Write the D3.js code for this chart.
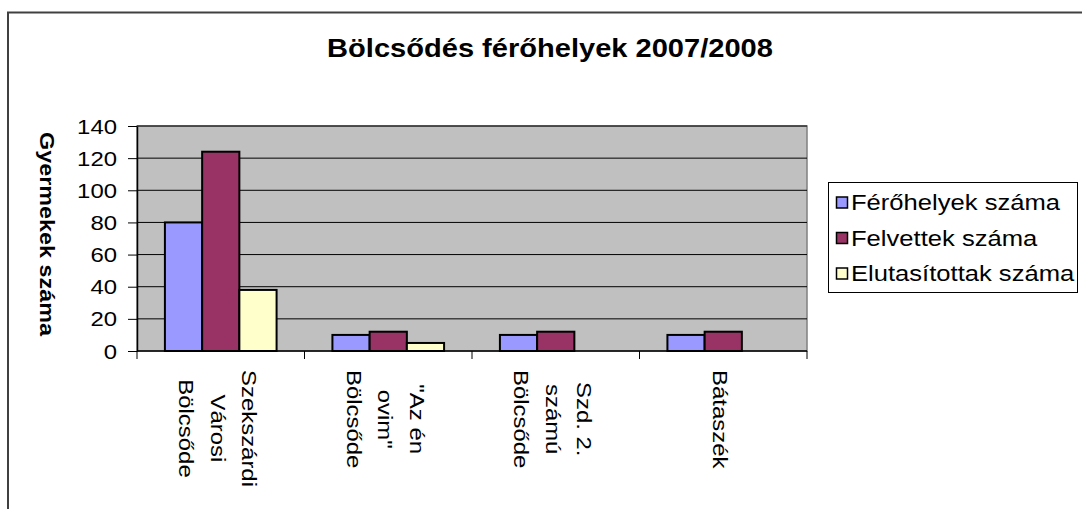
<!DOCTYPE html>
<html>
<head>
<meta charset="utf-8">
<script src="https://cdn.jsdelivr.net/npm/d3@7"></script>
<style>
  html, body { margin: 0; padding: 0; background: #fff; }
  svg { display: block; font-family: "Liberation Sans", Arial, sans-serif; }
</style>
</head>
<body>
<svg id="chart" width="1082" height="509"></svg>
<script>
// ---- data ----
const categoryLines = [
  ["Szekszárdi", "Városi", "Bölcsőde"],
  ["\"Az én", "ovim\"", "Bölcsőde"],
  ["Szd. 2.", "számú", "Bölcsőde"],
  ["Bátaszék"]
];
const seriesNames = ["Férőhelyek száma", "Felvettek száma", "Elutasítottak száma"];
const ferohelyek = [80, 10, 10, 10];
const felvettek = [124, 12, 12, 12];
const elutasitottak = [38, 5, 0, 0];
const yTicks = [0, 20, 40, 60, 80, 100, 120, 140];
const chartTitle = "Bölcsődés férőhelyek 2007/2008";
const yTitle = "Gyermekek száma";
const seriesColors = ["#9999FF", "#993366", "#FFFFCC"];

// ---- layout ----
const SX = 1.14; // horizontal text stretch of the original rendering
const plot = { left: 137, top: 126, right: 807, bottom: 351 };
const svg = d3.select("#chart");

// outer chart border
svg.append("rect")
  .attr("x", 8).attr("y", 12.5).attr("width", 1100).attr("height", 520)
  .attr("fill", "#fff").attr("stroke", "#404040").attr("stroke-width", 2);

const categories = categoryLines.map(l => l.join(" "));
const values = [ferohelyek, felvettek, elutasitottak];

const x = d3.scaleBand().domain(categories).range([plot.left, plot.right]).paddingInner(0).paddingOuter(0);
const xs = d3.scaleBand().domain(seriesNames).range([0, x.bandwidth()]).paddingInner(0).paddingOuter(0.75);
const y = d3.scaleLinear().domain([0, 140]).range([plot.bottom, plot.top]);

// plot background
svg.append("rect")
  .attr("x", plot.left).attr("y", plot.top)
  .attr("width", plot.right - plot.left).attr("height", plot.bottom - plot.top)
  .attr("fill", "#C0C0C0").attr("stroke", "#808080").attr("stroke-width", 1.5);

// gridlines
svg.append("g").selectAll("line").data(yTicks.filter(t => t > 0)).join("line")
  .attr("x1", plot.left).attr("x2", plot.right)
  .attr("y1", d => y(d)).attr("y2", d => y(d))
  .attr("stroke", "#000").attr("stroke-width", 1);

// bars
const barData = [];
categories.forEach((c, ci) => {
  seriesNames.forEach((s, si) => {
    const v = values[si][ci];
    if (v > 0) barData.push({ c, s, v, si });
  });
});
svg.append("g").selectAll("rect").data(barData).join("rect")
  .attr("x", d => x(d.c) + xs(d.s))
  .attr("y", d => y(d.v))
  .attr("width", xs.bandwidth())
  .attr("height", d => y(0) - y(d.v))
  .attr("fill", d => seriesColors[d.si])
  .attr("stroke", "#000").attr("stroke-width", 2);

// y axis
const yAxis = d3.axisLeft(y).tickValues(yTicks).tickSize(9).tickSizeOuter(0).tickFormat("");
const yg = svg.append("g").attr("transform", `translate(${plot.left},0)`).call(yAxis);
yg.select(".domain").attr("stroke", "#000").attr("stroke-width", 1.5);
yg.selectAll(".tick line").attr("stroke", "#000");
svg.append("g").selectAll("text").data(yTicks).join("text")
  .attr("transform", d => `translate(117,${y(d)}) scale(${SX},1)`)
  .attr("text-anchor", "end").attr("dy", "0.36em")
  .attr("font-size", 21).attr("fill", "#000")
  .text(d => d);

// x axis
const xTickPos = [plot.left].concat(categories.map(c => x(c) + x.bandwidth()));
const xg = svg.append("g");
xg.append("line").attr("x1", plot.left).attr("x2", plot.right)
  .attr("y1", plot.bottom).attr("y2", plot.bottom)
  .attr("stroke", "#000").attr("stroke-width", 1.5);
xg.selectAll("line.tk").data(xTickPos).join("line").attr("class", "tk")
  .attr("x1", d => d).attr("x2", d => d)
  .attr("y1", plot.bottom).attr("y2", plot.bottom + 8)
  .attr("stroke", "#000");

// x labels (rotated 90deg, multi-line)
const labelTop = 370;
const lineGap = 31.7;
categoryLines.forEach((lines, ci) => {
  const cx = x(categories[ci]) + x.bandwidth() / 2;
  const g = svg.append("g")
    .attr("transform", `translate(${cx},${labelTop}) rotate(90) scale(${SX},1)`);
  const texts = g.selectAll("text").data(lines).join("text")
    .attr("font-size", 21).attr("fill", "#000").attr("text-anchor", "middle")
    .text(d => d);
  let maxLen = 0;
  texts.each(function() { maxLen = Math.max(maxLen, this.getComputedTextLength()); });
  const n = lines.length;
  texts.attr("x", maxLen / 2)
    .attr("y", (d, i) => 10 - ((n - 1) / 2 - i) * lineGap);
});

// title
svg.append("text")
  .attr("transform", `translate(550,56.7) scale(${SX},1)`)
  .attr("text-anchor", "middle").attr("font-size", 25.5).attr("font-weight", "bold")
  .text(chartTitle);

// y axis title
svg.append("text")
  .attr("transform", `translate(40,234) rotate(90) scale(${SX},1)`)
  .attr("text-anchor", "middle").attr("font-size", 20.5).attr("font-weight", "bold")
  .text(yTitle);

// legend
const legend = svg.append("g");
legend.append("rect")
  .attr("x", 828.5).attr("y", 182.5).attr("width", 249).attr("height", 110)
  .attr("fill", "#fff").attr("stroke", "#000").attr("stroke-width", 1);
const rowY = [202.5, 238, 273.5];
const items = legend.selectAll("g.item").data(seriesNames).join("g").attr("class", "item");
items.append("rect")
  .attr("x", 836.5).attr("y", (d, i) => rowY[i] - 5.5)
  .attr("width", 11).attr("height", 11)
  .attr("fill", (d, i) => seriesColors[i]).attr("stroke", "#000").attr("stroke-width", 1.5);
items.append("text")
  .attr("transform", (d, i) => `translate(851,${rowY[i]}) scale(1.19,1)`)
  .attr("dy", "0.36em").attr("font-size", 21.5).attr("fill", "#000")
  .text(d => d);
</script>
</body>
</html>
